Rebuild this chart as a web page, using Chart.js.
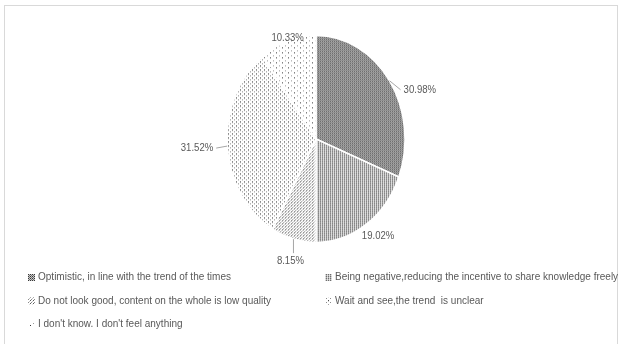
<!DOCTYPE html>
<html>
<head>
<meta charset="utf-8">
<script src="https://cdn.jsdelivr.net/npm/chart.js@4.4.1/dist/chart.umd.min.js"></script>
<style>
  html, body { margin: 0; padding: 0; background: #fff; }
  #frame { position: absolute; left: 4px; top: 5px; width: 614px; height: 400px; border: 1px solid #d9d9d9; box-sizing: border-box; }
  #myChart { position: absolute; left: 0; top: 0; }
</style>
</head>
<body>
<div id="frame"></div>
<canvas id="myChart" width="620" height="344"></canvas>
<script>
// answers, in legend order
const categories = [
  'Optimistic, in line with the trend of the times',
  'Being negative,reducing the incentive to share knowledge freely',
  'Do not look good, content on the whole is low quality',
  'Wait and see,the trend  is unclear',
  "I don't know. I don't feel anything"
];
const shares = [30.98, 19.02, 8.15, 31.52, 10.33];

// the pie is drawn as a circle, then stretched vertically
const SY = 1.163;
const FONT = '"Liberation Sans", Arial, sans-serif';
const CONDENSE = 0.87;
const TEXT = '#595959';

// pixel tiles for the fills: [w, h, background, [[x, y, colour], ...]]
const tiles = [
  [2, 2, '#c8c8c8', [[0, 0, '#3a3a3a'], [1, 1, '#707070']]],
  [2, 2, '#e8e8e8', [[0, 0, '#6e6e6e'], [0, 1, '#b0b0b0'], [1, 0, '#cfcfcf']]],
  [3, 3, '#ffffff', [[0, 0, '#5a5a5a'], [1, 2, '#8a8a8a'], [2, 1, '#c0c0c0']]],
  [4, 4, '#ffffff', [[0, 0, '#4a4a4a'], [2, 2, '#8a8a8a'], [0, 1, '#d0d0d0']]],
  [6, 5, '#ffffff', [[0, 0, '#3a3a3a'], [3, 3, '#9a9a9a']]]
];

function makePattern(t, squash) {
  const c = document.createElement('canvas');
  c.width = t[0]; c.height = t[1];
  const g = c.getContext('2d');
  g.fillStyle = t[2];
  g.fillRect(0, 0, t[0], t[1]);
  t[3].forEach(d => { g.fillStyle = d[2]; g.fillRect(d[0], d[1], 1, 1); });
  const p = g.createPattern(c, 'repeat');
  if (squash) p.setTransform(new DOMMatrix([1, 0, 0, 1 / SY, 0, 0]));
  return p;
}

const fills = tiles.map(t => makePattern(t, true));
const swatches = tiles.map(t => makePattern(t, false));

// narrow text: Arial metrics squeezed horizontally
function narrowText(ctx, str, x, y, align) {
  const w = ctx.measureText(str).width * CONDENSE;
  let left = x;
  if (align === 'center') left = x - w / 2;
  else if (align === 'right') left = x - w;
  ctx.save();
  ctx.translate(left, y);
  ctx.scale(CONDENSE, 1);
  ctx.textAlign = 'left';
  ctx.fillText(str, 0, 0);
  ctx.restore();
}

// where each value label sits relative to the slice's outer edge
// [dx, dy, align, leader]
const labelPlace = [
  [14, 9, 'left', true],
  [12, 11, 'center', false],
  [-3, 22, 'center', true],
  [-14, 2, 'right', true],
  [0, -3, 'center', false]
];

const stretch = {
  id: 'stretch',
  beforeDatasetsDraw(chart) {
    const arc = chart.getDatasetMeta(0).data[0];
    const ctx = chart.ctx;
    ctx.save();
    ctx.translate(arc.x, arc.y);
    ctx.scale(1, SY);
    ctx.translate(-arc.x, -arc.y);
  },
  afterDatasetsDraw(chart) {
    chart.ctx.restore();
  }
};

const sliceLabels = {
  id: 'sliceLabels',
  afterDraw(chart) {
    const ctx = chart.ctx;
    ctx.save();
    ctx.font = '11px ' + FONT;
    ctx.textBaseline = 'middle';
    chart.getDatasetMeta(0).data.forEach((arc, i) => {
      const mid = (arc.startAngle + arc.endAngle) / 2;
      const ex = arc.x + Math.cos(mid) * arc.outerRadius;
      const ey = arc.y + Math.sin(mid) * arc.outerRadius * SY;
      const p = labelPlace[i];
      const tx = ex + p[0], ty = ey + p[1];
      if (p[3]) {
        ctx.strokeStyle = '#a6a6a6';
        ctx.lineWidth = 1;
        ctx.beginPath();
        ctx.moveTo(ex, ey);
        if (p[2] === 'left') ctx.lineTo(tx - 3, ty);
        else if (p[2] === 'right') ctx.lineTo(tx + 3, ty);
        else ctx.lineTo(ex, ty - 8);
        ctx.stroke();
      }
      ctx.fillStyle = TEXT;
      narrowText(ctx, shares[i].toFixed(2) + '%', tx, ty, p[2]);
    });
    ctx.restore();
  }
};

// two-column legend under the pie
const gridLegend = {
  id: 'gridLegend',
  afterDraw(chart) {
    const ctx = chart.ctx;
    const colX = [28, 325];
    const rowY = [277, 300.5, 324];
    ctx.save();
    ctx.font = '11.5px ' + FONT;
    ctx.textBaseline = 'middle';
    categories.forEach((name, i) => {
      const x = colX[i % 2], y = rowY[Math.floor(i / 2)];
      ctx.fillStyle = swatches[i];
      ctx.fillRect(x, y - 3, 7, 7);
      ctx.fillStyle = TEXT;
      narrowText(ctx, name, x + 10, y, 'left');
    });
    ctx.restore();
  }
};

new Chart(document.getElementById('myChart'), {
  type: 'pie',
  data: {
    labels: categories,
    datasets: [{
      data: shares,
      backgroundColor: fills,
      borderColor: '#ffffff',
      borderWidth: 1.5
    }]
  },
  options: {
    responsive: false,
    animation: false,
    radius: 89,
    layout: { padding: { left: 227, right: 215, top: 50, bottom: 116 } },
    plugins: {
      legend: { display: false },
      tooltip: { enabled: false }
    }
  },
  plugins: [stretch, sliceLabels, gridLegend]
});
</script>
</body>
</html>
